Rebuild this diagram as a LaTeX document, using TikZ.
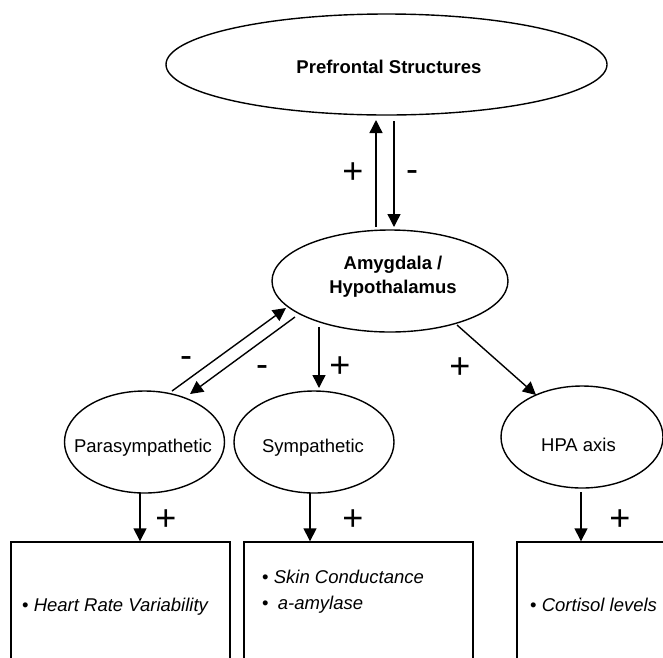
\documentclass[tikz,border=0pt]{standalone}
\usepackage{fontspec}
\setmainfont{Liberation Sans}
\usetikzlibrary{shapes.geometric,arrows.meta,calc}
\begin{document}
\begin{tikzpicture}[x=1pt,y=-1pt,
  ell/.style={draw,ellipse,line width=1.4pt,inner sep=0pt},
  box/.style={draw,rectangle,line width=1.4pt,inner sep=0pt,minimum width=219pt,minimum height=126pt},
  txt/.style={font=\fontsize{18.5}{24}\selectfont,inner sep=0pt,anchor=base},
  btxt/.style={font=\fontsize{18.5}{24}\selectfont\bfseries,inner sep=0pt,anchor=base},
  item/.style={font=\fontsize{18.5}{24}\selectfont,inner sep=0pt,anchor=base west},
  sign/.style={font=\fontsize{36}{36}\selectfont,inner sep=0pt,anchor=base},
  arr/.style={line width=1.4pt,-{Triangle[length=13pt,width=13pt]}}]
\useasboundingbox (0,0) rectangle (663,657);
\clip (0,0) rectangle (663,657);
% ellipses
\node[ell,minimum width=441pt,minimum height=101pt] (pf) at (386.5,64.5) {};
\node[btxt] (pft) at (389,73.6) {Prefrontal Structures};
\node[ell,minimum width=236pt,minimum height=102pt] (am) at (390,281) {};
\node[btxt] (amt1) at (393,269.6) {Amygdala /};
\node[btxt] (amt2) at (393,293.6) {Hypothalamus};
\node[ell,minimum width=160pt,minimum height=102pt] (para) at (144.5,442) {};
\node[txt] (parat) at (143,452.6) {Parasympathetic};
\node[ell,minimum width=160pt,minimum height=102pt] (symp) at (314,442) {};
\node[txt] (sympt) at (313,452.6) {Sympathetic};
\node[ell,minimum width=162pt,minimum height=102pt] (hpa) at (582,437) {};
\node[txt] (hpat) at (578.5,451.6) {HPA axis};
% boxes
\node[box] (b1) at (120.5,605) {};
\node[box,minimum width=229pt] (b2) at (358.5,605) {};
\node[box] (b3) at (626.5,605) {};
\node[item] (b1t) at (22,611.6) {• \textit{Heart Rate Variability}};
\node[item] (b2t1) at (262,583.6) {• \textit{Skin Conductance}};
\node[item] (b2t2) at (262,609.6) {•\hspace{4pt} \textit{a-amylase}};
\node[item] (b3t) at (530,611.6) {• \textit{Cortisol levels}};
% arrows
\draw[arr] ($(am.center)+(-14,-54)$) -- ($(pf.center)+(-10.5,55.5)$);
\draw[arr] ($(pf.center)+(7.5,56.5)$) -- ($(am.center)+(4,-54)$);
\draw[arr] ($(para.center)+(27.5,-51)$) -- ($(am.center)+(-104,27)$);
\draw[arr] ($(am.center)+(-95,36)$) -- ($(para.center)+(45.5,-48)$);
\draw[arr] ($(am.center)+(-71,46)$) -- ($(symp.center)+(5,-54)$);
\draw[arr] ($(am.center)+(67,44)$) -- ($(hpa.center)+(-46,-42)$);
\draw[arr] ($(para.center)+(-4.5,51)$) -- ($(b1.north)+(19.5,0)$);
\draw[arr] ($(symp.center)+(-4,51)$) -- ($(b2.north)+(-48.5,0)$);
\draw[arr] ($(hpa.center)+(-1,55)$) -- ($(b3.north)+(-45.5,0)$);
% signs
\node[sign] (s1) at (353,183.9) {+};
\node[sign] (s2) at (412,181.7) {-};
\node[sign] (s3) at (186,367.7) {-};
\node[sign] (s4) at (262,376.7) {-};
\node[sign] (s5) at (340,377.9) {+};
\node[sign] (s6) at (460,378.9) {+};
\node[sign] (s7) at (166,530.9) {+};
\node[sign] (s8) at (353,530.9) {+};
\node[sign] (s9) at (620,530.9) {+};
\end{tikzpicture}
\end{document}
